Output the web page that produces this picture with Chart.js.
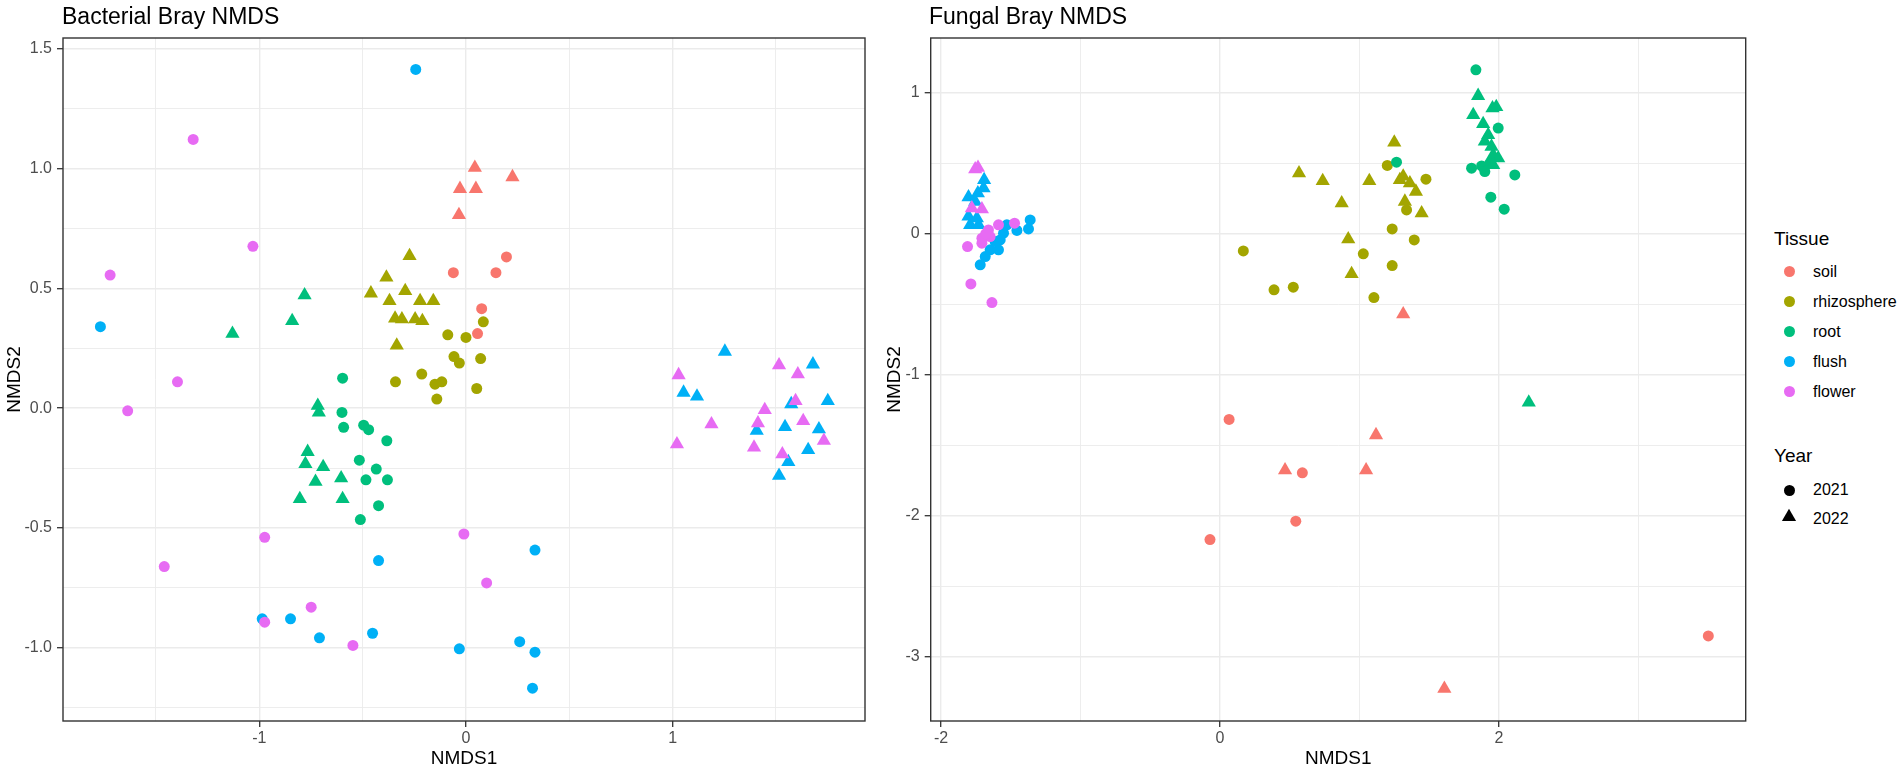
<!DOCTYPE html>
<html>
<head>
<meta charset="utf-8">
<script src="https://cdn.jsdelivr.net/npm/chart.js@4.4.1/dist/chart.umd.min.js"></script>
<style>
html,body{margin:0;padding:0;background:#fff;width:1902px;height:774px;overflow:hidden;font-family:"Liberation Sans",Arial,sans-serif;}
.panel{position:absolute;top:0;width:880px;height:774px;}
.ptitle{position:absolute;top:5px;font-size:23px;line-height:23px;color:#000;white-space:nowrap;}
.ltitle{position:absolute;left:1774px;font-size:19px;line-height:19px;color:#000;white-space:nowrap;}
.ltext{position:absolute;left:1813px;font-size:16px;line-height:16px;color:#000;white-space:nowrap;}
.ldot{position:absolute;width:11px;height:11px;border-radius:50%;}
.ltri{position:absolute;}
</style>
</head>
<body>
<div class="panel" style="left:0"><canvas id="bact" width="880" height="774"></canvas></div>
<div class="panel" style="left:880px"><canvas id="fung" width="880" height="774"></canvas></div>
<div class="ptitle" style="left:62px">Bacterial Bray NMDS</div>
<div class="ptitle" style="left:929px">Fungal Bray NMDS</div>
<div id="legend"></div>
<script>
// ---------- categories ----------
const tissues = ['soil', 'rhizosphere', 'root', 'flush', 'flower'];
const tissueColors = ['#F8766D', '#A3A500', '#00BF7D', '#00B0F6', '#E76BF3'];
const years = ['2021', '2022'];

// ---------- axis ranges & ticks ----------
const bactXRange = [-1.950, 1.931];
const bactYRange = [-1.305, 1.544];
const fungXRange = [-2.074, 3.768];
const fungYRange = [-3.455, 1.389];

const bactXMajor = [-1, 0, 1];
const bactXLabels = ['-1', '0', '1'];
const bactXMinor = [-1.5, -0.5, 0.5, 1.5];
const bactYMajor = [-1.0, -0.5, 0, 0.5, 1.0, 1.5];
const bactYLabels = ['-1.0', '-0.5', '0.0', '0.5', '1.0', '1.5'];
const bactYMinor = [-1.25, -0.75, -0.25, 0.25, 0.75, 1.25];

const fungXMajor = [-2, 0, 2];
const fungXLabels = ['-2', '0', '2'];
const fungXMinor = [-1, 1, 3];
const fungYMajor = [-3, -2, -1, 0, 1];
const fungYLabels = ['-3', '-2', '-1', '0', '1'];
const fungYMinor = [-2.5, -1.5, -0.5, 0.5];

// ---------- Bacterial NMDS points [NMDS1, NMDS2] ----------
const bact_soil_2021 = [[-0.061,0.565],[0.145,0.565],[0.196,0.631],[0.076,0.415],[0.056,0.311]];
const bact_soil_2022 = [[0.043,1.003],[0.225,0.964],[-0.029,0.915],[0.048,0.915],[-0.034,0.806]];
const bact_rhizo_2021 = [[0.084,0.360],[-0.088,0.306],[0.000,0.295],[-0.058,0.215],[-0.032,0.188],[0.071,0.207],[-0.341,0.110],[-0.214,0.142],[-0.150,0.100],[-0.117,0.110],[-0.141,0.038],[0.052,0.082]];
const bact_rhizo_2022 = [[-0.273,0.635],[-0.385,0.545],[-0.460,0.479],[-0.294,0.489],[-0.370,0.447],[-0.222,0.447],[-0.158,0.447],[-0.343,0.374],[-0.310,0.371],[-0.246,0.371],[-0.211,0.364],[-0.335,0.262]];
const bact_root_2021 = [[-0.597,0.125],[-0.600,-0.018],[-0.592,-0.080],[-0.495,-0.071],[-0.471,-0.090],[-0.383,-0.136],[-0.516,-0.217],[-0.434,-0.254],[-0.484,-0.299],[-0.380,-0.299],[-0.423,-0.407],[-0.511,-0.465]];
const bact_root_2022 = [[-0.781,0.471],[-0.841,0.364],[-1.130,0.311],[-0.717,0.010],[-0.712,-0.018],[-0.766,-0.182],[-0.777,-0.233],[-0.691,-0.245],[-0.604,-0.292],[-0.728,-0.307],[-0.804,-0.379],[-0.597,-0.379]];
const bact_flush_2021 = [[-1.769,0.340],[-0.243,1.413],[-0.423,-0.636],[-0.986,-0.879],[-0.849,-0.879],[-0.709,-0.958],[-0.452,-0.939],[0.334,-0.592],[-0.032,-1.004],[0.260,-0.974],[0.334,-1.018],[0.322,-1.168]];
const bact_flush_2022 = [[1.253,0.236],[1.679,0.183],[1.053,0.065],[1.118,0.049],[1.574,0.017],[1.751,0.030],[1.407,-0.094],[1.544,-0.078],[1.708,-0.088],[1.656,-0.174],[1.560,-0.224],[1.515,-0.282]];
const bact_flower_2021 = [[-1.320,1.121],[-1.031,0.675],[-1.722,0.555],[-1.396,0.110],[-1.637,-0.011],[-0.974,-0.539],[-1.460,-0.661],[-0.749,-0.830],[-0.974,-0.893],[-0.547,-0.990],[-0.010,-0.525],[0.100,-0.729]];
const bact_flower_2022 = [[1.515,0.179],[1.029,0.138],[1.606,0.142],[1.595,0.030],[1.446,-0.007],[1.188,-0.067],[1.632,-0.053],[1.413,-0.063],[1.732,-0.136],[1.021,-0.150],[1.394,-0.164],[1.531,-0.192]];

// ---------- Fungal NMDS points [NMDS1, NMDS2] ----------
const fung_soil_2021 = [[0.065,-1.316],[0.590,-1.695],[0.543,-2.038],[-0.072,-2.168],[3.500,-2.852]];
const fung_soil_2022 = [[1.313,-0.570],[0.466,-1.676],[1.118,-1.427],[1.047,-1.676],[1.608,-3.226]];
const fung_rhizo_2021 = [[0.167,-0.121],[0.387,-0.397],[0.525,-0.378],[1.199,0.485],[1.476,0.388],[1.337,0.170],[1.234,0.035],[1.392,-0.043],[1.027,-0.142],[1.234,-0.225],[1.103,-0.452]];
const fung_rhizo_2022 = [[0.566,0.430],[0.736,0.376],[1.070,0.376],[1.249,0.648],[1.313,0.407],[1.361,0.360],[1.404,0.300],[1.289,0.383],[0.872,0.218],[1.325,0.229],[1.445,0.147],[0.919,-0.038],[0.943,-0.284]];
const fung_root_2021 = [[1.834,1.163],[1.994,0.750],[1.803,0.466],[1.875,0.482],[1.898,0.442],[1.934,0.501],[2.113,0.418],[1.941,0.260],[2.037,0.175],[1.265,0.508]];
const fung_root_2022 = [[1.850,0.979],[1.953,0.891],[1.980,0.900],[1.815,0.844],[1.886,0.780],[1.922,0.702],[1.898,0.655],[1.946,0.619],[1.958,0.560],[1.994,0.537],[1.958,0.489],[2.213,-1.195]];
const fung_flush_2021 = [[-1.361,0.099],[-1.373,0.035],[-1.456,0.024],[-1.528,0.064],[-1.552,0.005],[-1.576,-0.043],[-1.588,-0.113],[-1.648,-0.113],[-1.683,-0.161],[-1.719,-0.220],[-1.612,-0.054]];
const fung_flush_2022 = [[-1.691,0.383],[-1.695,0.324],[-1.736,0.289],[-1.803,0.260],[-1.755,0.229],[-1.803,0.123],[-1.743,0.111],[-1.791,0.064],[-1.731,0.064]];
const fung_flower_2021 = [[-1.660,0.028],[-1.707,-0.031],[-1.648,-0.019],[-1.707,-0.066],[-1.588,0.064],[-1.473,0.076],[-1.810,-0.090],[-1.786,-0.355],[-1.635,-0.487],[-1.680,0.000]];
const fung_flower_2022 = [[-1.755,0.459],[-1.735,0.470],[-1.779,0.182],[-1.707,0.175]];

const bactGroups = [
  [bact_soil_2021, bact_soil_2022],
  [bact_rhizo_2021, bact_rhizo_2022],
  [bact_root_2021, bact_root_2022],
  [bact_flush_2021, bact_flush_2022],
  [bact_flower_2021, bact_flower_2022]
];
const fungGroups = [
  [fung_soil_2021, fung_soil_2022],
  [fung_rhizo_2021, fung_rhizo_2022],
  [fung_root_2021, fung_root_2022],
  [fung_flush_2021, fung_flush_2022],
  [fung_flower_2021, fung_flower_2022]
];

// ---------- styling ----------
const FONT = '"Liberation Sans", Arial, sans-serif';
const CIRCLE_R = 5.5;
const TRI_R = 8.2;
const GRID = '#EBEBEB';
const TICKC = '#333333';

function buildDatasets(groups) {
  const ds = [];
  groups.forEach((pair, ti) => {
    pair.forEach((pts, yi) => {
      ds.push({
        label: tissues[ti] + ' ' + years[yi],
        data: pts.map(p => ({x: p[0], y: p[1]})),
        pointStyle: yi === 0 ? 'circle' : 'triangle',
        pointRadius: yi === 0 ? CIRCLE_R : TRI_R,
        pointHoverRadius: yi === 0 ? CIRCLE_R : TRI_R,
        backgroundColor: tissueColors[ti],
        borderColor: tissueColors[ti],
        borderWidth: 0,
        showLine: false,
        order: -(ti * 2 + yi)
      });
    });
  });
  return ds;
}

function makeScale(range, major, labels, minor, horizontal, axisSize, title) {
  const all = major.concat(minor).sort((a, b) => a - b);
  const isMajor = v => major.indexOf(v) >= 0;
  return {
    type: 'linear',
    position: horizontal ? 'bottom' : 'left',
    min: range[0],
    max: range[1],
    afterBuildTicks: axis => { axis.ticks = all.map(v => ({value: v})); },
    afterFit: axis => { if (horizontal) axis.height = axisSize; else axis.width = axisSize; },
    ticks: {
      autoSkip: false,
      maxRotation: 0,
      minRotation: 0,
      padding: horizontal ? 2 : 5,
      color: '#4D4D4D',
      font: {family: FONT, size: 16},
      callback: v => { const i = major.indexOf(v); return i >= 0 ? labels[i] : ''; }
    },
    grid: {
      drawTicks: true,
      tickLength: 6,
      color: GRID,
      lineWidth: ctx => (ctx.tick && isMajor(ctx.tick.value)) ? 1.4 : 0.9,
      tickColor: ctx => (ctx.tick && isMajor(ctx.tick.value)) ? TICKC : 'rgba(0,0,0,0)',
      tickWidth: 1.3
    },
    border: {display: false},
    title: {
      display: true,
      text: title,
      color: '#000',
      font: {family: FONT, size: 19, lineHeight: 1.2},
      padding: horizontal ? {top: 0, bottom: 4} : {top: 3, bottom: 0}
    }
  };
}

const panelBorder = {
  id: 'panelBorder',
  afterDraw(chart) {
    const a = chart.chartArea;
    const ctx = chart.ctx;
    ctx.save();
    ctx.strokeStyle = '#333333';
    ctx.lineWidth = 1.4;
    ctx.strokeRect(a.left, a.top, a.right - a.left, a.bottom - a.top);
    ctx.restore();
  }
};

function makeChart(id, groups, xr, xMaj, xLab, xMin, yr, yMaj, yLab, yMin, yAxisW, rightPad) {
  return new Chart(document.getElementById(id), {
    type: 'scatter',
    data: {datasets: buildDatasets(groups)},
    options: {
      responsive: false,
      animation: false,
      devicePixelRatio: 1,
      layout: {padding: {top: 38, right: rightPad, bottom: 0, left: 0}},
      plugins: {legend: {display: false}, tooltip: {enabled: false}, title: {display: false}},
      scales: {
        x: makeScale(xr, xMaj, xLab, xMin, true, 53, 'NMDS1'),
        y: makeScale(yr, yMaj, yLab, yMin, false, yAxisW, 'NMDS2')
      }
    },
    plugins: [panelBorder]
  });
}

makeChart('bact', bactGroups, bactXRange, bactXMajor, bactXLabels, bactXMinor,
          bactYRange, bactYMajor, bactYLabels, bactYMinor, 63, 15);
makeChart('fung', fungGroups, fungXRange, fungXMajor, fungXLabels, fungXMinor,
          fungYRange, fungYMajor, fungYLabels, fungYMinor, 50.7, 14.3);

// ---------- legend (HTML) ----------
(function () {
  const lg = document.getElementById('legend');
  const add = (html) => { lg.insertAdjacentHTML('beforeend', html); };
  add('<div class="ltitle" style="top:229px">Tissue</div>');
  const tissueCenters = [271.7, 301.7, 331.7, 361.7, 391.7];
  tissues.forEach((t, i) => {
    const c = tissueCenters[i];
    add('<div class="ldot" style="left:1783.8px;top:' + (c - 5.5) + 'px;background:' + tissueColors[i] + '"></div>');
    add('<div class="ltext" style="top:' + (c + 5.7 - 13.55) + 'px">' + t + '</div>');
  });
  add('<div class="ltitle" style="top:445.6px">Year</div>');
  add('<div class="ldot" style="left:1783.8px;top:484.5px;background:#000"></div>');
  add('<div class="ltext" style="top:' + (496 - 13.55) + 'px">' + years[0] + '</div>');
  add('<svg class="ltri" width="16" height="14" style="left:1781.3px;top:508.3px"><polygon points="8,0.8 15.1,13.1 0.9,13.1" fill="#000"/></svg>');
  add('<div class="ltext" style="top:' + (525 - 13.55) + 'px">' + years[1] + '</div>');
})();
</script>
</body>
</html>
